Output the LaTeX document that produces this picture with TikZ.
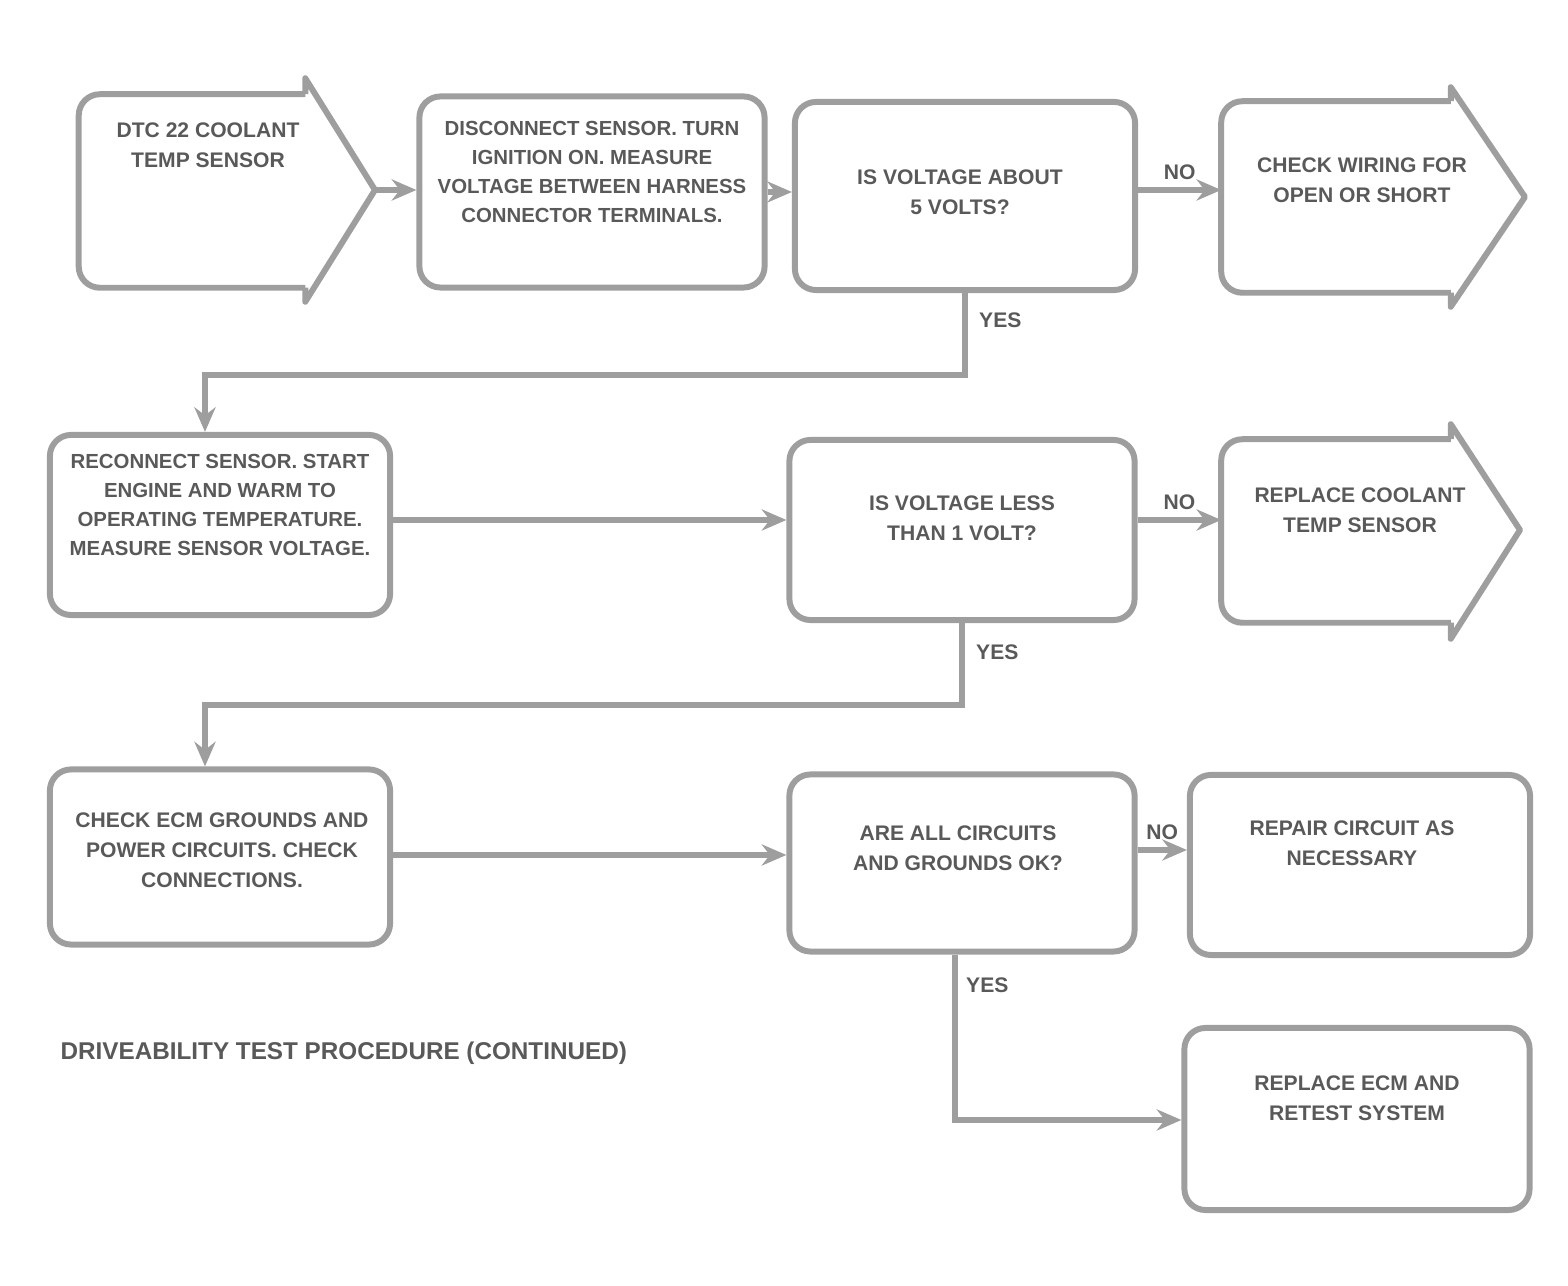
\documentclass[tikz,border=0pt]{standalone}
\usepackage{fontspec}
\setmainfont{Liberation Sans}
\usetikzlibrary{arrows.meta,calc}
\definecolor{linec}{gray}{0.62}
\definecolor{txtc}{gray}{0.35}
\begin{document}
\begin{tikzpicture}[x=0.01cm,y=-0.01cm,
  box/.style={draw=linec, line width=1.7pt, rounded corners=6pt, inner sep=0pt},
  body/.style={draw=none, inner sep=0pt},
  shapeline/.style={draw=linec, line width=1.7pt, rounded corners=6pt},
  headline/.style={draw=linec, line width=1.7pt, line join=round},
  txt/.style={font=\fontsize{6}{8.6}\selectfont\bfseries, text=txtc, align=center, inner sep=1pt},
  dense/.style={font=\fontsize{5.8}{8.2}\selectfont\bfseries, text=txtc, align=center, inner sep=1pt},
  lbl/.style={font=\fontsize{6}{7}\selectfont\bfseries, text=txtc, inner sep=1pt},
  conn/.style={draw=linec, line width=1.7pt, -{Stealth[length=7pt,width=6pt]}},
  plain/.style={draw=linec, line width=1.7pt}]
\useasboundingbox (0,0) rectangle (1568,1286);

% ---------- row 1 ----------
\node[body, minimum width=2.25cm, minimum height=1.92cm] (A) at (192,191) {};
\coordinate (Atip) at (375,190);
\draw[shapeline] (A.north east) -- (A.north west) -- (A.south west) -- (A.south east);
\draw[headline] (A.north east) -- ++(0,-16) -- (Atip) -- ($(A.south east)+(0,14)$) -- (A.south east);
\node[txt] (At) at (208,145) {DTC 22 COOLANT\\TEMP SENSOR};

\node[box, minimum width=3.45cm, minimum height=1.91cm] (B) at (592,192) {};
\node[dense] (Bt) at (592,172) {DISCONNECT SENSOR. TURN\\IGNITION ON. MEASURE\\VOLTAGE BETWEEN HARNESS\\CONNECTOR TERMINALS.};

\node[box, minimum width=3.40cm, minimum height=1.88cm] (C) at (965,196) {};
\node[txt] (Ct) at (960,192) {IS VOLTAGE ABOUT\\5 VOLTS?};

\node[body, minimum width=2.28cm, minimum height=1.90cm] (D) at (1336,197) {};
\coordinate (Dtip) at (1525,197);
\draw[shapeline] (D.north east) -- (D.north west) -- (D.south west) -- (D.south east);
\draw[headline] (D.north east) -- ++(0,-14) -- (Dtip) -- ($(D.south east)+(0,14)$) -- (D.south east);
\node[txt] (Dt) at (1362,180) {CHECK WIRING FOR\\OPEN OR SHORT};

\draw[conn] (Atip) -- (B.west |- Atip);
\draw[conn] (B.east) -- (C.west |- B.east);
\draw[conn] (C.east |- 0,190) -- (D.west |- 0,190) node[lbl, midway, above=1pt] (n1) {NO};

\coordinate (k1) at (965,375);
\coordinate (k2) at (205,375);
\node[box, minimum width=3.40cm, minimum height=1.80cm] (E) at (220,525) {};
\draw[conn] (C.south) -- (k1) -- (k2) -- (k2 |- E.north);
\node[lbl, anchor=west] (y1) at (975,320) {YES};

% ---------- row 2 ----------
\node[dense] (Et) at (220,505) {RECONNECT SENSOR. START\\ENGINE AND WARM TO\\OPERATING TEMPERATURE.\\MEASURE SENSOR VOLTAGE.};

\node[box, minimum width=3.45cm, minimum height=1.80cm] (F) at (962,530) {};
\node[txt] (Ft) at (962,518) {IS VOLTAGE LESS\\THAN 1 VOLT?};

\node[body, minimum width=2.28cm, minimum height=1.82cm] (G) at (1336,531) {};
\coordinate (Gtip) at (1520,530);
\draw[shapeline] (G.north east) -- (G.north west) -- (G.south west) -- (G.south east);
\draw[headline] (G.north east) -- ++(0,-15) -- (Gtip) -- ($(G.south east)+(0,16)$) -- (G.south east);
\node[txt] (Gt) at (1360,510) {REPLACE COOLANT\\TEMP SENSOR};

\draw[conn] (E.east |- 0,520) -- (F.west |- 0,520);
\draw[conn] (F.east |- 0,520) -- (G.west |- 0,520) node[lbl, midway, above=1pt] (n2) {NO};

\coordinate (k3) at (962,705);
\coordinate (k4) at (205,705);
\node[box, minimum width=3.40cm, minimum height=1.75cm] (H) at (220,857) {};
\draw[conn] (F.south) -- (k3) -- (k4) -- (k4 |- H.north);
\node[lbl, anchor=west] (y2) at (972,652) {YES};

% ---------- row 3 ----------
\node[txt] (Ht) at (222,850) {CHECK ECM GROUNDS AND\\POWER CIRCUITS. CHECK\\CONNECTIONS.};

\node[box, minimum width=3.45cm, minimum height=1.77cm] (I) at (962,863) {};
\node[txt] (It) at (958,848) {ARE ALL CIRCUITS\\AND GROUNDS OK?};

\node[box, minimum width=3.40cm, minimum height=1.80cm] (J) at (1360,865) {};
\node[txt] (Jt) at (1352,843) {REPAIR CIRCUIT AS\\NECESSARY};

\draw[conn] (H.east |- 0,855) -- (I.west |- 0,855);
\draw[conn] (I.east |- 0,850) -- (J.west |- 0,850) node[lbl, midway, above=1pt] (n3) {NO};

\node[box, minimum width=3.45cm, minimum height=1.82cm] (K) at (1357,1119) {};
\node[txt] (Kt) at (1357,1098) {REPLACE ECM AND\\RETEST SYSTEM};
\coordinate (k5) at (955,1120);
\draw[conn] (I.south -| k5) -- (k5) -- (K.west |- k5);
\node[lbl, anchor=west] (y3) at (962,985) {YES};

% ---------- caption ----------
\node[font=\fontsize{6.9}{8}\selectfont\bfseries, text=txtc, anchor=west, inner sep=0pt] (cap) at (60,1053) {DRIVEABILITY TEST PROCEDURE (CONTINUED)};
\end{tikzpicture}
\end{document}
